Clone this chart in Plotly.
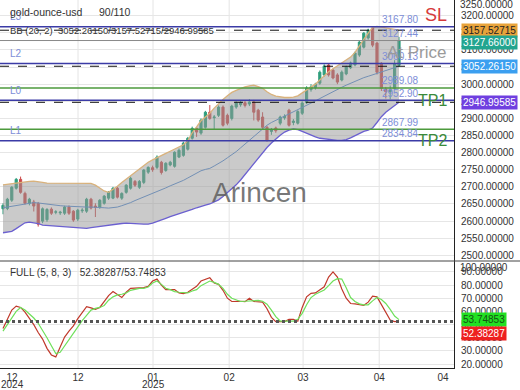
import plotly.graph_objects as go
from plotly.subplots import make_subplots

# ---------------- data ----------------
opens = [2636, 2637, 2661, 2696, 2722, 2681, 2652, 2656, 2652, 2600,
         2604, 2635, 2626, 2624, 2623, 2641, 2629, 2606, 2630, 2629,
         2664, 2644, 2641, 2652, 2667, 2667, 2696, 2667, 2684, 2696,
         2716, 2699, 2713, 2743, 2756, 2757, 2772, 2748, 2764, 2760,
         2787, 2792, 2810, 2842, 2871, 2857, 2874, 2918, 2902, 2909,
         2933, 2909, 2900, 2933, 2940, 2946, 2942, 2948, 2924, 2904,
         2874, 2862, 2872, 2886, 2902, 2924, 2888, 2886, 2915, 2946,
         2984, 2990, 3003, 3027, 3056, 3041, 3027, 3012, 3030, 3048,
         3056, 3085, 3108, 3135, 3164, 3120, 3061, 2985, 2978, 2988,
         3055]
highs = [2652, 2668, 2702, 2726, 2730, 2686, 2668, 2662, 2656, 2640,
         2638, 2640, 2632, 2630, 2645, 2646, 2632, 2636, 2638, 2668,
         2668, 2652, 2664, 2676, 2688, 2700, 2700, 2684, 2708, 2730,
         2720, 2720, 2752, 2760, 2762, 2792, 2776, 2772, 2776, 2804,
         2812, 2832, 2846, 2876, 2874, 2900, 2922, 2939, 2910, 2938,
         2938, 2914, 2940, 2950, 2952, 2952, 2956, 2954, 2928, 2918,
         2878, 2872, 2876, 2908, 2912, 2928, 2898, 2924, 2950, 2994,
         3000, 3004, 3040, 3058, 3060, 3046, 3032, 3040, 3054, 3066,
         3095, 3128, 3152, 3162, 3167.8, 3124, 3064, 2992, 2996, 3070,
         3138]
lows = [2620, 2632, 2656, 2692, 2680, 2648, 2646, 2628, 2584, 2594,
        2598, 2618, 2620, 2618, 2618, 2618, 2598, 2600, 2624, 2624,
        2634, 2612, 2636, 2648, 2662, 2664, 2666, 2662, 2680, 2692,
        2700, 2694, 2708, 2738, 2744, 2752, 2736, 2744, 2760, 2756,
        2784, 2788, 2806, 2838, 2846, 2852, 2870, 2896, 2868, 2904,
        2876, 2880, 2894, 2928, 2934, 2932, 2936, 2894, 2890, 2868,
        2832, 2852, 2858, 2880, 2896, 2876, 2880, 2882, 2910, 2942,
        2978, 2984, 2998, 3022, 3022, 3014, 3000, 3008, 3026, 3044,
        3052, 3080, 3104, 3130, 3108, 3028, 2980, 2958, 2956, 2984,
        3050]
closes = [2646, 2664, 2699, 2722, 2684, 2652, 2664, 2644, 2591, 2636,
          2634, 2623, 2627, 2626, 2641, 2623, 2603, 2632, 2632, 2664,
          2638, 2640, 2661, 2673, 2684, 2696, 2670, 2681, 2705, 2725,
          2705, 2716, 2749, 2757, 2750, 2787, 2742, 2769, 2772, 2801,
          2807, 2828, 2842, 2871, 2860, 2895, 2918, 2900, 2904, 2933,
          2880, 2886, 2936, 2945, 2946, 2938, 2948, 2918, 2895, 2874,
          2836, 2866, 2864, 2904, 2906, 2880, 2892, 2920, 2945, 2989,
          2992, 3000, 3035, 3053, 3027, 3018, 3006, 3035, 3050, 3062,
          3091, 3123, 3149, 3158, 3114, 3035, 2988, 2978, 2984, 3060,
          3127.66]

bb_upper = [2706, 2708, 2710, 2712, 2713, 2715, 2716, 2717, 2716, 2713,
            2711, 2711, 2711, 2710, 2710, 2710, 2710, 2711, 2711, 2711,
            2710, 2705, 2697, 2688, 2684, 2692, 2702, 2713, 2723, 2733,
            2743, 2753, 2763, 2772, 2779, 2786, 2792, 2798, 2804, 2810,
            2815, 2823, 2835, 2858, 2875, 2893, 2904, 2915, 2930, 2944,
            2955, 2966, 2976, 2982, 2988, 2992, 2995, 2997, 2993, 2988,
            2978, 2970, 2965, 2962, 2961, 2961, 2962, 2966, 2974, 2983,
            2991, 3000, 3012, 3024, 3036, 3045, 3054, 3063, 3071, 3079,
            3093, 3114, 3131, 3149, 3166, 3169, 3167, 3166, 3163, 3160,
            3157.52715]
bb_middle = [2639, 2641, 2643, 2645, 2647, 2650, 2653, 2654, 2653, 2651,
             2649, 2647, 2646, 2645, 2644, 2643, 2642, 2641, 2641, 2641,
             2641, 2641, 2640, 2639, 2638, 2639, 2641, 2645, 2649, 2654,
             2660, 2665, 2671, 2676, 2681, 2687, 2692, 2697, 2703, 2708,
             2713, 2719, 2726, 2733, 2740, 2747, 2751, 2754, 2761, 2768,
             2776, 2785, 2793, 2803, 2814, 2825, 2836, 2848, 2860, 2871,
             2880, 2888, 2895, 2901, 2907, 2913, 2919, 2925, 2931, 2937,
             2944, 2951, 2958, 2965, 2972, 2979, 2985, 2991, 2997, 3003,
             3009, 3014, 3019, 3023, 3027, 3032, 3036, 3040, 3044, 3048,
             3052.2615]
bb_lower = [2566, 2567, 2570, 2578, 2587, 2595, 2597, 2595, 2593, 2588,
            2587, 2586, 2585, 2584, 2583, 2582, 2581, 2580, 2579, 2579,
            2581, 2583, 2585, 2587, 2589, 2591, 2592, 2593, 2594, 2594,
            2593, 2592, 2591, 2591, 2594, 2598, 2603, 2608, 2613, 2617,
            2620, 2625, 2630, 2634, 2639, 2644, 2647, 2650, 2656, 2662,
            2672, 2683, 2694, 2706, 2720, 2736, 2752, 2768, 2784, 2800,
            2815, 2828, 2840, 2851, 2860, 2866, 2869, 2867, 2862, 2856,
            2850, 2846, 2842, 2840, 2838, 2837, 2836, 2836, 2838, 2843,
            2850, 2857, 2862, 2866, 2872, 2888, 2905, 2918, 2928, 2938,
            2946.99585]

stoch_k = [47, 54, 61, 64, 63, 59.5, 55, 50, 44, 39,
           32, 27, 25.5, 33, 40.5, 45, 49, 54.5, 59, 63.6,
           62.7, 61.5, 63, 67.5, 72, 75, 73, 70.5, 74.5, 77.5,
           77.7, 77.7, 78, 79, 83, 84.5, 80, 76.5, 76.5, 76.5,
           74, 73.5, 74.5, 76.5, 79, 83, 84.5, 85.5, 81.5, 80.5,
           76, 70, 67.5, 67.7, 67.7, 67.4, 70, 67.5, 67.5, 67,
           62, 55.5, 52.3, 52.3, 52.3, 54, 54, 52.5, 63, 71,
           73.7, 74, 76.5, 78.7, 86, 90, 86, 77, 70, 66,
           65.7, 65.2, 64.6, 67, 71.5, 71, 65, 58.5, 53.5, 52.3,
           52.38287]
stoch_d = [45, 50, 55, 60, 63, 61, 58, 55, 51, 46,
           40, 34, 28, 29, 34, 39, 44, 48, 53, 57,
           61, 62.3, 63, 64.5, 68.5, 71, 72.5, 73, 74, 76,
           77, 77.5, 77.5, 78.5, 81.5, 83, 80.5, 77.5, 76.5, 75,
           74.5, 74, 74, 75.5, 76.5, 79.5, 81.5, 83, 82, 80.5,
           77.5, 73, 70, 68.5, 67.5, 67.7, 67.8, 67.9, 68.3, 67.7,
           65.5, 61, 56, 52.7, 52.7, 52.7, 52.7, 54, 58.5, 65,
           70.5, 73, 74.5, 76.2, 79.5, 83, 84.8, 84.5, 78, 70.5,
           67.5, 65.7, 65, 65, 68, 70.5, 69, 66, 61.5, 56.5,
           53.74853]

# horizontal levels
blue_levels = [3167.80, 3060.13, 2952.90, 2834.84]
blue_names = ["L3", "L2", "L0", "L1"]
green_levels = [2989.08, 2867.99]
at_price = 3127.44
bb_values = [3157.52715, 3052.26150, 2946.99585]
last_price = 3127.66
stoch_level = 52.38287

# x-axis ticks (candle index positions) and labels
tick_pos = [2.05, 17.05, 34.1, 51.4, 68.2, 85.5, 100.0]
tick_text = ["12", "12", "01", "02", "03", "04", "04"]
year_labels = {0: "2024", 2: "2025"}   # tick index -> year shown under it
grid_pos = [17.05, 34.1, 51.4, 68.2, 85.5]
edge_labels = ["3250.00000", "100.00000"]  # clamped labels at the panel tops

idx = list(range(len(closes)))

# ---------------- figure ----------------
FONT = "Liberation Sans, Arial, sans-serif"
G = "#2f9e7d"
R = "#cc4a4a"

fig = make_subplots(rows=2, cols=1, shared_xaxes=True, vertical_spacing=0)

fig.add_trace(go.Scatter(x=idx, y=bb_upper, mode="lines",
                         line=dict(color="#d9b27c", width=1.3), hoverinfo="skip"), row=1, col=1)
fig.add_trace(go.Scatter(x=idx, y=bb_lower, mode="lines", fill="tonexty",
                         fillcolor="rgba(150,150,150,0.5)",
                         line=dict(color="#6b60d0", width=1.3), hoverinfo="skip"), row=1, col=1)
fig.add_trace(go.Scatter(x=idx, y=bb_middle, mode="lines",
                         line=dict(color="#7390b5", width=1), hoverinfo="skip"), row=1, col=1)
fig.add_trace(go.Candlestick(x=idx, open=opens, high=highs, low=lows, close=closes,
                             increasing=dict(line=dict(color=G, width=1), fillcolor=G),
                             decreasing=dict(line=dict(color=R, width=1), fillcolor=R),
                             whiskerwidth=0), row=1, col=1)

fig.add_trace(go.Scatter(x=idx, y=stoch_k, mode="lines",
                         line=dict(color="#c0392b", width=1.2)), row=2, col=1)
fig.add_trace(go.Scatter(x=idx, y=stoch_d, mode="lines",
                         line=dict(color="#6ee05a", width=1.2)), row=2, col=1)

PLOT_W = 454.0
PLOT_H = 368.0
split = 1 - 261 / PLOT_H

shapes = []
for gp in grid_pos:
    shapes.append(dict(type="line", xref="x", yref="paper", x0=gp, x1=gp, y0=0, y1=1,
                       line=dict(color="#e4e4e4", width=1), layer="below"))
for v in blue_levels:
    shapes.append(dict(type="line", xref="paper", yref="y", x0=0, x1=1, y0=v, y1=v,
                       line=dict(color="#3b3ba6", width=1.5)))
for v in green_levels:
    shapes.append(dict(type="line", xref="paper", yref="y", x0=0, x1=1, y0=v, y1=v,
                       line=dict(color="#4d9a3c", width=1.5)))
shapes.append(dict(type="line", xref="paper", yref="y", x0=0, x1=1, y0=at_price, y1=at_price,
                   line=dict(color="#8a8a8a", width=1)))
for v in bb_values:
    shapes.append(dict(type="line", xref="paper", yref="y", x0=0, x1=1, y0=v, y1=v,
                       line=dict(color="#111111", width=1, dash="dash")))
shapes.append(dict(type="line", xref="paper", yref="y2", x0=0, x1=1, y0=stoch_level, y1=stoch_level,
                   line=dict(color="#555555", width=3, dash="dot")))
shapes.append(dict(type="line", xref="paper", yref="paper", x0=0, x1=520 / PLOT_W,
                   y0=split, y1=split, line=dict(color="#444444", width=1)))

ann = []
def txt(text, x, y, xref="paper", yref="paper", size=10, color="#333333",
        xanchor="left", yanchor="middle", yshift=0, bg=None, fam=FONT):
    d = dict(text=text, x=x, y=y, xref=xref, yref=yref, showarrow=False,
             font=dict(family=fam, size=size, color=color),
             xanchor=xanchor, yanchor=yanchor, yshift=yshift)
    if bg:
        d["bgcolor"] = bg
        d["borderpad"] = 1
    ann.append(d)

# level value labels and L-names
for v, n in zip(blue_levels, blue_names):
    txt(f"{v:.2f}", 380 / PLOT_W, v, yref="y", color="#7d8ed8", yshift=7, size=10)
    txt(n, 8 / PLOT_W, v, yref="y", color="#7d8ed8", yshift=10, size=10)
for v in green_levels:
    txt(f"{v:.2f}", 380 / PLOT_W, v, yref="y", color="#7d8ed8", yshift=7, size=10)
txt(f"{at_price:.2f}", 380 / PLOT_W, at_price, yref="y", color="#7d8ed8", yshift=7, size=10)

# big labels
txt("SL", 449 / PLOT_W, blue_levels[0], yref="y", color="#d63a3a", size=18,
    xanchor="right", yshift=12)
txt("At Price", 449 / PLOT_W, at_price, yref="y", color="#9a9a9a", size=17,
    xanchor="right", yshift=-12)
txt("TP1", 449 / PLOT_W, blue_levels[2], yref="y", color="#3a8a3a", size=16, xanchor="right")
txt("TP2", 449 / PLOT_W, blue_levels[3], yref="y", color="#3a8a3a", size=16, xanchor="right")

# header texts
txt("gold-ounce-usd", 8 / PLOT_W, 1 - 12 / PLOT_H, size=10.5)
txt("90/110", 97 / PLOT_W, 1 - 12 / PLOT_H, size=10.5)
txt("BB (20, 2)  3052.26150/3157.52715/2946.99585", 8 / PLOT_W, bb_values[0], yref="y", size=9.5)
txt("FULL (5, 8, 3)   52.38287/53.74853", 8 / PLOT_W, 1 - 272 / PLOT_H, size=10)

# watermark
txt("Arincen", 259 / PLOT_W, 1 - 192 / PLOT_H, size=28, color="rgba(95,95,95,0.85)",
    xanchor="center")

# year labels under the x ticks
for k, yr in year_labels.items():
    txt(yr, tick_pos[k], -(384 - PLOT_H) / PLOT_H, xref="x2", size=10, xanchor="center")

# clamped axis labels at the top of each panel
txt(edge_labels[0], 1 + 4 / PLOT_W, 1 - 4 / PLOT_H, size=10)
txt(edge_labels[1], 1 + 4 / PLOT_W, 1 - 267 / PLOT_H, size=10)

# right-side value boxes
bx = 1 + 7 / PLOT_W
txt(f"{bb_values[0]:.5f}", bx, bb_values[0], yref="y", bg="#e8a33a", color="#222222")
txt(f"{last_price:.5f}", bx, last_price, yref="y", bg="#22a58f", color="#ffffff", yshift=-2)
txt(f"{bb_values[1]:.5f}", bx, bb_values[1], yref="y", bg="#3b9ff0", color="#ffffff")
txt(f"{bb_values[2]:.5f}", bx, bb_values[2], yref="y", bg="#6f3fe0", color="#ffffff")
txt(f"{stoch_d[-1]:.5f}", bx, stoch_d[-1], yref="y2", bg="#22e022", color="#145214")
txt(f"{stoch_k[-1]:.5f}", bx, stoch_k[-1], yref="y2", bg="#ee2020", color="#ffffff", yshift=-12)

fig.update_layout(
    width=520, height=390,
    margin=dict(l=0, r=520 - PLOT_W, t=0, b=390 - PLOT_H, autoexpand=False),
    paper_bgcolor="white", plot_bgcolor="white",
    showlegend=False,
    font=dict(family=FONT, size=10, color="#333333"),
    shapes=shapes, annotations=ann,
)

xr = [-0.68, 102.5]
fig.update_xaxes(range=xr, showgrid=False, zeroline=False, automargin=False,
                 rangeslider=dict(visible=False))
fig.update_xaxes(showticklabels=False, showline=False, row=1, col=1)
fig.update_xaxes(tickvals=tick_pos, ticktext=tick_text, showline=True, linecolor="#222222",
                 linewidth=1, ticks="", tickfont=dict(size=10, color="#333333"),
                 row=2, col=1)

fig.update_layout(
    yaxis=dict(domain=[split, 1], range=[2483.5, 3245.8], side="right", dtick=50, tick0=0,
               tickformat=".5f", showgrid=True, gridcolor="#e6e6e6", zeroline=False,
               showline=True, linecolor="#222222", linewidth=1, automargin=False,
               tickfont=dict(size=10, color="#333333"), ticklabelstandoff=4),
    yaxis2=dict(domain=[0, split], range=[17.1, 98.2], side="right", dtick=10, tick0=0,
                tickformat=".5f", showgrid=True, gridcolor="#e6e6e6", zeroline=False,
                showline=True, linecolor="#222222", linewidth=1, automargin=False,
                tickfont=dict(size=10, color="#333333"), ticklabelstandoff=4),
)

fig.write_html("out.html", config={"displayModeBar": False},
               post_script="document.body.style.margin='0';document.body.style.padding='0';")
